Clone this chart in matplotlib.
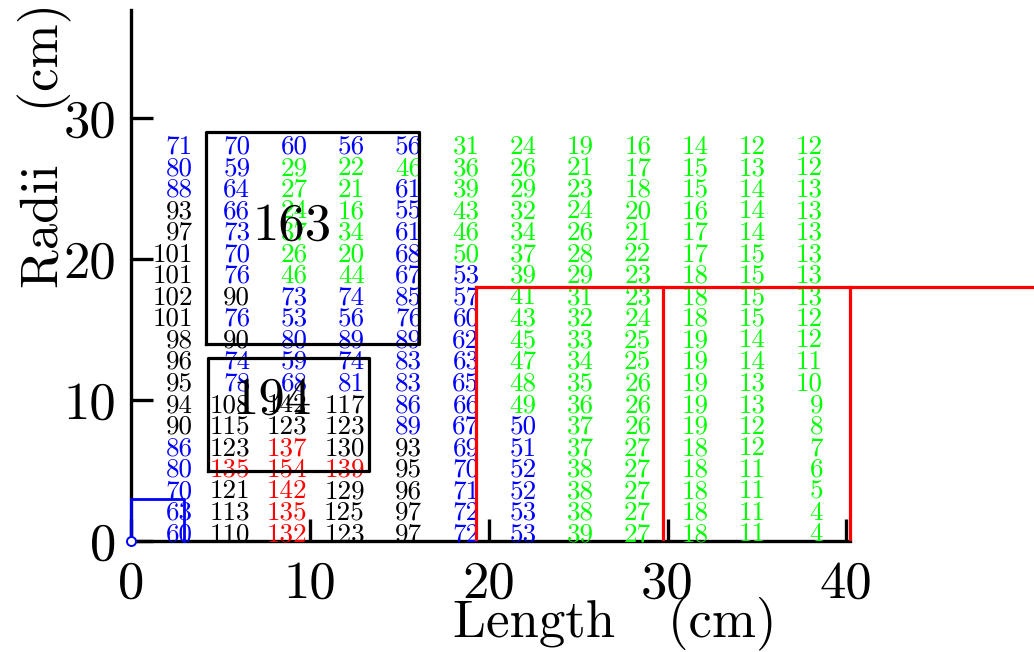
import matplotlib
matplotlib.use("Agg")
import matplotlib.pyplot as plt
import numpy as np

plt.rcParams['font.family'] = 'cmr10'
plt.rcParams['mathtext.fontset'] = 'cm'
plt.rcParams['axes.formatter.use_mathtext'] = True

# ---- data: 12 columns of values (top row first), colour codes per cell ----
col1 = [71, 80, 88, 93, 97, 101, 101, 102, 101, 98, 96, 95, 94, 90, 86, 80, 70, 63, 60]
col2 = [70, 59, 64, 66, 73, 70, 76, 90, 76, 90, 74, 78, 108, 115, 123, 135, 121, 113, 110]
col3 = [60, 29, 27, 24, 37, 26, 46, 73, 53, 80, 59, 68, 142, 123, 137, 154, 142, 135, 132]
col4 = [56, 22, 21, 16, 34, 20, 44, 74, 56, 89, 74, 81, 117, 123, 130, 139, 129, 125, 123]
col5 = [56, 46, 61, 55, 61, 68, 67, 85, 76, 89, 83, 83, 86, 89, 93, 95, 96, 97, 97]
col6 = [31, 36, 39, 43, 46, 50, 53, 57, 60, 62, 63, 65, 66, 67, 69, 70, 71, 72, 72]
col7 = [24, 26, 29, 32, 34, 37, 39, 41, 43, 45, 47, 48, 49, 50, 51, 52, 52, 53, 53]
col8 = [19, 21, 23, 24, 26, 28, 29, 31, 32, 33, 34, 35, 36, 37, 37, 38, 38, 38, 39]
col9 = [16, 17, 18, 20, 21, 22, 23, 23, 24, 25, 25, 26, 26, 26, 27, 27, 27, 27, 27]
col10 = [14, 15, 15, 16, 17, 17, 18, 18, 18, 19, 19, 19, 19, 19, 18, 18, 18, 18, 18]
col11 = [12, 13, 14, 14, 14, 15, 15, 15, 15, 14, 14, 13, 13, 12, 12, 11, 11, 11, 11]
col12 = [12, 12, 13, 13, 13, 13, 13, 13, 12, 12, 11, 10, 9, 8, 7, 6, 5, 4, 4]

clr1 = "bbb" + "k" * 11 + "bbbbb"
clr2 = "bbbbbbbkbkbbkkkrkkk"
clr3 = "bggggggbbbbbkkrrrrr"
clr4 = "bggggggbbbbbkkkrkkk"
clr5 = "bg" + "b" * 12 + "kkkkk"
clr6 = "g" * 6 + "b" * 13
clr7 = "g" * 13 + "b" * 6
clr8 = "g" * 19
clr9 = "g" * 19
clr10 = "g" * 19
clr11 = "g" * 19
clr12 = "g" * 19

box_labels = ["163", "194"]
xtick_vals = [0, 10, 20, 30, 40]
ytick_vals = [0, 10, 20, 30]
xlabel_text = "Length   (cm)"
ylabel_text = "Radii   (cm)"

columns = [col1, col2, col3, col4, col5, col6, col7, col8, col9, col10, col11, col12]
colours = [clr1, clr2, clr3, clr4, clr5, clr6, clr7, clr8, clr9, clr10, clr11, clr12]
cmap = {"b": "#0000ff", "g": "#00ff00", "r": "#ff0000", "k": "#000000"}

fig = plt.figure(figsize=(10.34, 6.52), dpi=100)
ax = fig.add_axes([0.127, 0.1702, 0.873, 0.8145])
ax.set_xlim(0, 50.5)
ax.set_ylim(0, 37.66)

nrows = len(col1)
row_y = np.arange(nrows)[::-1] * 1.525
for i, (vals, cs) in enumerate(zip(columns, colours)):
    xr = 3.45 + 3.205 * i
    for v, c, y in zip(vals, cs, row_y):
        ax.text(xr, y, str(v), ha="right", va="baseline", fontsize=19.5,
                color=cmap[c], zorder=3)

# black boxes
lw = 2.3
for (x0, y0, x1, y1) in [(4.2, 14.0, 16.1, 29.0), (4.3, 5.0, 13.3, 13.0)]:
    ax.plot([x0, x1, x1, x0, x0], [y0, y0, y1, y1, y0], color="black", lw=lw, zorder=4)
ax.text(9.0, 21.4, box_labels[0], ha="center", va="baseline", fontsize=38, zorder=5)
ax.text(7.85, 9.0, box_labels[1], ha="center", va="baseline", fontsize=38, zorder=5)

# red lines
ax.plot([19.3, 60], [18, 18], color="#ff0000", lw=lw, zorder=4, clip_on=True)
for xv in [19.3, 29.75, 40.2]:
    ax.plot([xv, xv], [0, 18], color="#ff0000", lw=lw, zorder=4)

# blue small box and origin marker
ax.plot([0, 0, 2.95, 2.95], [0, 3, 3, 0], color="#0000ff", lw=2.0, zorder=6, clip_on=False)
ax.plot([0], [0], marker="o", ms=6.5, mfc="white", mec="#0000ff", mew=1.4, zorder=7, clip_on=False)

# axes styling
for s in ["top", "right"]:
    ax.spines[s].set_visible(False)
for s in ["left", "bottom"]:
    ax.spines[s].set_linewidth(2.4)
ax.spines["bottom"].set_bounds(0, 40.2)

ax.set_xticks(xtick_vals, [str(v) for v in xtick_vals])
ax.set_yticks(ytick_vals, [str(v) for v in ytick_vals])
ax.tick_params(axis="both", direction="in", length=16, width=2.4, labelsize=38)
ax.tick_params(axis="x", pad=14)
ax.tick_params(axis="y", pad=11)

ax.set_xlabel(xlabel_text, fontsize=38, va="center")
ax.xaxis.set_label_coords(0.536, -0.157)
ax.set_ylabel(ylabel_text, fontsize=38, va="center")
ax.yaxis.set_label_coords(-0.0956, 0.744)

fig.savefig("out.png", dpi=100)
